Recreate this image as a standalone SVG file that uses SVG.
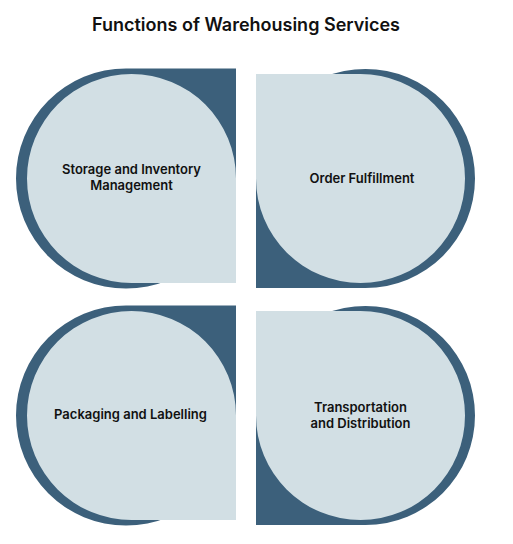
<svg xmlns="http://www.w3.org/2000/svg" width="513" height="544" viewBox="0 0 513 544">
<style>
.dark{fill:#3c607b}
.light{fill:#d2dfe4}
.lbl{font-family:Inter,"Noto Sans","DejaVu Sans",sans-serif;font-size:13px;font-weight:600;fill:#111;text-anchor:middle}
.title{font-family:Inter,"Noto Sans","DejaVu Sans",sans-serif;font-size:18px;font-weight:600;fill:#111;text-anchor:middle}
</style>
<rect width="513" height="544" fill="#fff"/>
<text class="title" x="246" y="31" textLength="308" lengthAdjust="spacingAndGlyphs">Functions of Warehousing Services</text>
<g id="storage">
<path class="dark" d="M16,178.5 A110,110 0 0 1 126,68.5 L236,68.5 L236,178.5 A110,110 0 0 1 126,288.5 A110,110 0 0 1 16,178.5 Z"/>
<path class="light" d="M27,178.5 A104.5,104.5 0 0 1 131.5,74 A104.5,104.5 0 0 1 236,178.5 L236,283 L131.5,283 A104.5,104.5 0 0 1 27,178.5 Z"/>
<text class="lbl" x="131.5" y="174">Storage and Inventory</text>
<text class="lbl" x="131.5" y="189.5">Management</text>
</g>
<g id="order">
<path class="dark" d="M256,178.5 A109.5,109.5 0 0 1 365.5,69 A109.5,109.5 0 0 1 475,178.5 A109.5,109.5 0 0 1 365.5,288 L256,288 Z"/>
<path class="light" d="M256,74 L360.5,74 A104.5,104.5 0 0 1 465,178.5 A104.5,104.5 0 0 1 360.5,283 A104.5,104.5 0 0 1 256,178.5 Z"/>
<text class="lbl" x="362" y="182.5">Order Fulfillment</text>
</g>
<g id="packaging">
<path class="dark" d="M16,415.5 A110,110 0 0 1 126,305.5 L236,305.5 L236,415.5 A110,110 0 0 1 126,525.5 A110,110 0 0 1 16,415.5 Z"/>
<path class="light" d="M27,415.5 A104.5,104.5 0 0 1 131.5,311 A104.5,104.5 0 0 1 236,415.5 L236,520 L131.5,520 A104.5,104.5 0 0 1 27,415.5 Z"/>
<text class="lbl" x="130.5" y="419">Packaging and Labelling</text>
</g>
<g id="transport">
<path class="dark" d="M256,415.5 A109.5,109.5 0 0 1 365.5,306 A109.5,109.5 0 0 1 475,415.5 A109.5,109.5 0 0 1 365.5,525 L256,525 Z"/>
<path class="light" d="M256,311 L360.5,311 A104.5,104.5 0 0 1 465,415.5 A104.5,104.5 0 0 1 360.5,520 A104.5,104.5 0 0 1 256,415.5 Z"/>
<text class="lbl" x="360.5" y="412">Transportation</text>
<text class="lbl" x="360.5" y="427.5">and Distribution</text>
</g>
<g id="connectors"/>
</svg>
